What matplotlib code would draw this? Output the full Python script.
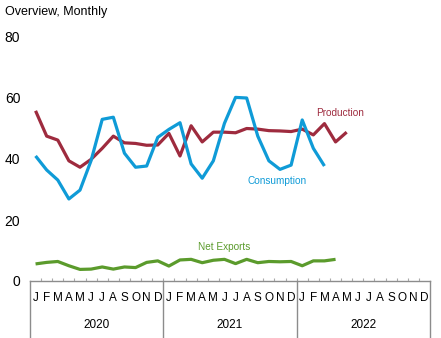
import matplotlib
matplotlib.use("Agg")
import matplotlib.pyplot as plt
import matplotlib.transforms as mtransforms

plt.rcParams['font.family'] = ['Liberation Sans', 'DejaVu Sans']

title = "Overview, Monthly"
years = ["2020", "2021", "2022"]
month_letters = ["J", "F", "M", "A", "M", "J", "J", "A", "S", "O", "N", "D"]

production = [55.8, 47.5, 46.2, 39.4, 37.3, 39.9, 43.5, 47.5, 45.3, 45.1, 44.5, 44.6,
              48.4, 41.0, 50.9, 45.6, 48.8, 48.8, 48.6, 50.0, 49.8, 49.3, 49.2, 49.0,
              49.8, 47.9, 51.6, 45.6, 48.8]
consumption = [41.0, 36.4, 33.1, 26.9, 29.8, 39.5, 53.0, 53.7, 41.9, 37.3, 37.7, 47.1,
               49.7, 51.9, 38.4, 33.7, 39.4, 51.7, 60.2, 60.0, 47.5, 39.4, 36.6, 38.0,
               52.8, 43.5, 37.7]
net_exports = [5.6, 6.1, 6.4, 5.0, 3.8, 3.9, 4.6, 3.9, 4.6, 4.4, 6.1, 6.6,
               4.9, 6.9, 7.1, 6.0, 6.8, 7.1, 5.7, 7.1, 6.0, 6.4, 6.3, 6.4,
               5.0, 6.6, 6.6, 7.1]

c_prod = "#9e2b3e"
c_cons = "#0f9bd7"
c_net = "#5b9b2c"

W, H = 441, 338
fig = plt.figure(figsize=(W / 100, H / 100), dpi=100)
left, right, bottom_px, top_px = 30, 430, 281, 37
ax = fig.add_axes([left / W, (H - bottom_px) / H, (right - left) / W, (bottom_px - top_px) / H])

nm = 12 * len(years)
ax.plot([i + 0.5 for i in range(len(production))], production, color=c_prod, lw=2.3, solid_capstyle='butt')
ax.plot([i + 0.5 for i in range(len(consumption))], consumption, color=c_cons, lw=2.3, solid_capstyle='butt')
ax.plot([i + 0.5 for i in range(len(net_exports))], net_exports, color=c_net, lw=2.3, solid_capstyle='butt')

ax.set_xlim(0, nm)
ax.set_ylim(0, 80)
ax.set_yticks([0, 20, 40, 60, 80])
ax.tick_params(axis='y', length=0, pad=7, labelsize=10)
for s in ['left', 'top', 'right']:
    ax.spines[s].set_visible(False)
ax.spines['bottom'].set_color('#8c8c8c')
ax.spines['bottom'].set_linewidth(1.0)
ax.set_xticks([])
ax.set_xticks(range(1, nm), minor=True)
ax.tick_params(axis='x', which='minor', direction='in', length=2.5, color='#aaaaaa', width=0.8)

trans = mtransforms.blended_transform_factory(ax.transData, ax.transAxes)
axh = bottom_px - top_px
for k in range(len(years) + 1):
    ax.plot([12 * k, 12 * k], [0, -(H - bottom_px) / axh], transform=trans, color='#8c8c8c',
            lw=1.0, clip_on=False)
for y_i, yr in enumerate(years):
    for m, let in enumerate(month_letters):
        ax.text(12 * y_i + m + 0.5, -17 / axh, let, transform=trans, ha='center', va='center',
                fontsize=8.5)
    ax.text(12 * y_i + 6, -44 / axh, yr, transform=trans, ha='center', va='center', fontsize=8.5)

fig.text(5 / W, 1 - 12 / H, title, ha='left', va='center', fontsize=9)

ax.text(27.9, 55.1, "Production", color=c_prod, fontsize=7.2, ha='center', va='center')
ax.text(22.2, 32.8, "Consumption", color=c_cons, fontsize=7.2, ha='center', va='center')
ax.text(17.5, 11.2, "Net Exports", color=c_net, fontsize=7.2, ha='center', va='center')

fig.savefig("out.png", dpi=100)
